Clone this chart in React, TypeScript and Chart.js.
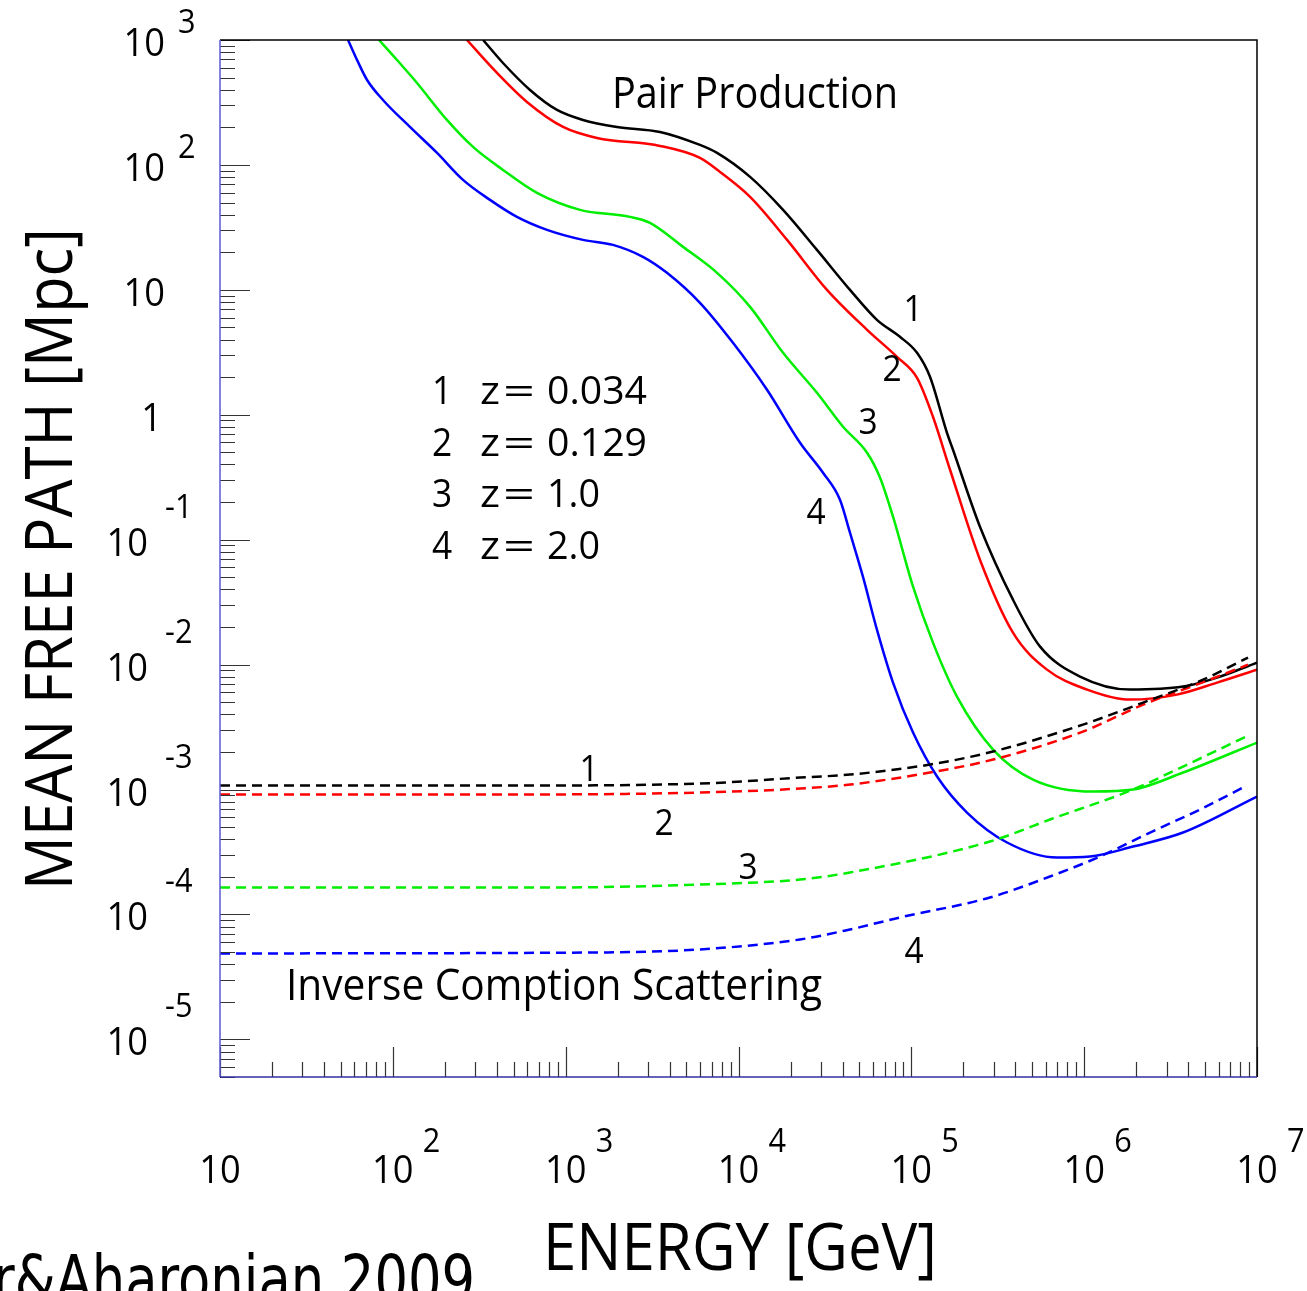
import React, { useEffect, useRef } from "react";
import { Chart, registerables } from "chart.js";

Chart.register(...registerables);

// ---------- axis ranges ----------
const X_MIN = 10;
const X_MAX = 1e7;
const Y_MIN = 5e-6;
const Y_MAX = 1000;

// ---------- Pair production (solid curves) ----------
const ppEnergy1 = [333, 434, 622, 891, 1259, 1982, 3516, 5984, 7516, 11670, 18110, 28440, 44160, 63240, 85900, 107900, 128200, 160700, 174200, 249500, 387300, 555900, 946200, 1841000, 3733000, 5875000, 1e7];
const ppMfp1 = [1000, 654.6, 398.1, 275.4, 229.1, 201.4, 183.7, 144.5, 124.7, 80.17, 43.65, 20.89, 10.0, 5.754, 4.207, 3.133, 2.014, 0.7178, 0.5248, 0.1271, 0.03311, 0.01393, 0.008017, 0.00631, 0.006668, 0.00787, 0.01038];

const ppEnergy2 = [268.5, 400.9, 597, 966.1, 1517, 3516, 5984, 7816, 11670, 19100, 32510, 55460, 82600, 107900, 133400, 167500, 249500, 387300, 609500, 1040000, 1841000, 3443000, 5875000, 1e7];
const ppMfp2 = [1000, 544.5, 319.2, 201.4, 164.4, 141.9, 113.8, 87.9, 55.46, 25.12, 10, 4.786, 2.911, 1.977, 0.9638, 0.3631, 0.06918, 0.01803, 0.00912, 0.00631, 0.005248, 0.005754, 0.007178, 0.00912];

const ppEnergy3 = [83.18, 105.7, 138, 205.6, 291.1, 434, 682.3, 1211, 2355, 3076, 4775, 7516, 11670, 18110, 28440, 40270, 55460, 65920, 78340, 102300, 133400, 183700, 297200, 505800, 1125000, 1919000, 3733000, 1e7];
const ppMfp3 = [1000, 691.8, 452.9, 229.1, 139.3, 91.2, 59.7, 43.65, 38.37, 34.36, 22.08, 13.68, 7.311, 3.133, 1.5, 0.8017, 0.4966, 0.3133, 0.1528, 0.04207, 0.015, 0.005546, 0.002089, 0.001202, 0.0009638, 0.001, 0.001368, 0.002377];

const ppEnergy4 = [55.08, 62.09, 70.96, 87.7, 125.6, 180.3, 254.7, 364.8, 522.4, 779.8, 1259, 1879, 2799, 3855, 5984, 9290, 14620, 22700, 30830, 38640, 44160, 52480, 63240, 78340, 102300, 140900, 209900, 358100, 696600, 1081000, 1919000, 3733000, 1e7];
const ppMfp4 = [1000, 691.8, 478.6, 331.1, 201.4, 124.7, 75.86, 52.48, 38.37, 30.2, 25.12, 22.91, 18.37, 13.68, 7.87, 3.767, 1.585, 0.597, 0.3436, 0.2089, 0.1138, 0.05058, 0.01905, 0.007178, 0.002858, 0.001271, 0.0006546, 0.0003767, 0.0002858, 0.0002911, 0.0003499, 0.0004529, 0.000879];

// ---------- Inverse Compton scattering (dashed curves) ----------
const icEnergy1 = [10, 416.9, 5984, 22700, 44160, 128200, 297200, 984000, 2193000, 4875000, 8872000];
const icMfp1 = [0.001076, 0.001076, 0.001117, 0.001247, 0.001318, 0.001585, 0.002014, 0.003311, 0.004966, 0.007586, 0.01138];

const icEnergy2 = [10, 416.9, 5984, 22700, 44160, 128200, 297200, 984000, 2193000, 5346000, 8872000];
const icMfp2 = [0.000912, 0.000912, 0.0009462, 0.001019, 0.001096, 0.001368, 0.001738, 0.002911, 0.004786, 0.007586, 0.01];

const icEnergy3 = [10, 811, 5984, 22700, 44160, 285100, 633900, 1919000, 3733000, 9120000];
const icMfp3 = [0.0001644, 0.0001644, 0.0001738, 0.0001905, 0.0002168, 0.0003837, 0.0005754, 0.001, 0.001528, 0.002754];

const icEnergy4 = [10, 1581, 5984, 22700, 44160, 85900, 285100, 633900, 1236000, 2404000, 4677000, 8531000];
const icMfp4 = [0.00004875, 0.00004966, 0.00005248, 0.0000631, 0.00007586, 0.00009462, 0.0001368, 0.0002014, 0.0002911, 0.0004529, 0.0006918, 0.001057];

// ---------- colours / legend ----------
const curveColors = ["#000000", "#ff0000", "#00ee00", "#0000ff"];
const curveIds = ["1", "2", "3", "4"];
const redshifts = ["0.034", "0.129", "1.0", "2.0"];

// ---------- tick labels ----------
const yMajorTicks = [1e3, 1e2, 10, 1, 0.1, 0.01, 1e-3, 1e-4, 1e-5];
const yTickBase = ["10", "10", "10", "1", "10", "10", "10", "10", "10"];
const yTickExp = ["3", "2", "", "", "-1", "-2", "-3", "-4", "-5"];
const xMajorTicks = [10, 1e2, 1e3, 1e4, 1e5, 1e6, 1e7];
const xTickExp = ["", "2", "3", "4", "5", "6", "7"];

const FONT = '"Open Sans", "Noto Sans", sans-serif';

function drawText(
  ctx: CanvasRenderingContext2D,
  s: string,
  x: number,
  y: number,
  size: number,
  opts: { align?: CanvasTextAlign; fit?: number; sx?: number; italic?: boolean; rotate?: number; family?: string } = {}
) {
  ctx.save();
  ctx.font = `${opts.italic ? "italic " : ""}${size}px ${opts.family || FONT}`;
  ctx.textBaseline = "alphabetic";
  ctx.fillStyle = "#000";
  let sx = opts.sx ?? 0.93;
  if (opts.fit) {
    const w = ctx.measureText(s).width;
    sx = opts.fit / w;
  }
  ctx.translate(x, y);
  if (opts.rotate) ctx.rotate(opts.rotate);
  ctx.scale(sx, 1);
  ctx.textAlign = opts.align || "left";
  ctx.fillText(s, 0, 0);
  ctx.restore();
}

const decorPlugin = {
  id: "decor",
  afterDatasetsDraw(chart: any) {
    const ctx: CanvasRenderingContext2D = chart.ctx;
    const xs = chart.scales.x;
    const ys = chart.scales.y;
    const { left, right, top, bottom } = chart.chartArea;
    ctx.save();

    // minor + major ticks (inward)
    ctx.strokeStyle = "#333";
    ctx.lineWidth = 1.2;
    ctx.beginPath();
    for (let d = -6; d <= 3; d++) {
      for (let m = 1; m <= 9; m++) {
        const v = m * Math.pow(10, d);
        if (v < Y_MIN * 0.999 || v > Y_MAX * 1.001) continue;
        const py = Math.round(ys.getPixelForValue(v)) + 0.5;
        const len = m === 1 ? 30 : 15;
        ctx.moveTo(left, py);
        ctx.lineTo(left + len, py);
      }
    }
    for (let d = 1; d <= 7; d++) {
      for (let m = 1; m <= 9; m++) {
        const v = m * Math.pow(10, d);
        if (v < X_MIN * 0.999 || v > X_MAX * 1.001) continue;
        const px = Math.round(xs.getPixelForValue(v)) + 0.5;
        const len = m === 1 ? 30 : 15;
        ctx.moveTo(px, bottom);
        ctx.lineTo(px, bottom - len);
      }
    }
    ctx.stroke();

    // frame
    ctx.lineWidth = 1.5;
    ctx.strokeStyle = "#000";
    ctx.beginPath();
    ctx.moveTo(left, top);
    ctx.lineTo(right, top);
    ctx.lineTo(right, bottom);
    ctx.stroke();
    ctx.strokeStyle = "#5b5bd6";
    ctx.beginPath();
    ctx.moveTo(left, top);
    ctx.lineTo(left, bottom);
    ctx.stroke();
    ctx.strokeStyle = "#2f2f9f";
    ctx.beginPath();
    ctx.moveTo(left, bottom);
    ctx.lineTo(right, bottom);
    ctx.stroke();

    // y tick labels
    yMajorTicks.forEach((v, i) => {
      const py = ys.getPixelForValue(v);
      const exp = yTickExp[i];
      if (!exp) {
        drawText(ctx, yTickBase[i], yTickBase[i] === "1" ? 162 : 165, py + 16, 39, { align: "right" });
      } else if (exp.startsWith("-")) {
        drawText(ctx, yTickBase[i], 148, py + 16, 39, { align: "right" });
        drawText(ctx, exp, 165, py - 22, 33, { align: "left" });
      } else {
        drawText(ctx, yTickBase[i], 165, py + 16, 39, { align: "right" });
        drawText(ctx, exp, 178, py - 7, 33, { align: "left" });
      }
    });

    // x tick labels
    xMajorTicks.forEach((v, i) => {
      const px = xs.getPixelForValue(v);
      drawText(ctx, "10", px, 1183, 39, { align: "center" });
      if (xTickExp[i]) drawText(ctx, xTickExp[i], px + 30, 1152, 33, { align: "left" });
    });

    // axis titles
    drawText(ctx, "ENERGY [GeV]", 543, 1270, 66, { align: "left", fit: 394 });
    drawText(ctx, "MEAN FREE PATH [Mpc]", 72, 559, 66, { align: "center", fit: 662, rotate: -Math.PI / 2 });

    // annotations
    drawText(ctx, "Pair Production", 612, 108, 43, { align: "left", fit: 286 });
    drawText(ctx, "Inverse Comption Scattering", 286, 1000, 43, { align: "left", fit: 536 });

    // legend
    const rowBase = [404, 456, 507, 559];
    const valueW = [100, 100, 53, 53];
    redshifts.forEach((z, i) => {
      drawText(ctx, curveIds[i], 432, rowBase[i], 38, { align: "left" });
      drawText(ctx, "z", 480, rowBase[i], 38, { align: "left", fit: 20 });
      drawText(ctx, "=", 519, rowBase[i], 38, { align: "center", fit: 32 });
      drawText(ctx, z, 547, rowBase[i], 38, { align: "left", fit: valueW[i] });
    });

    // curve labels (solid)
    const solidLbl = [
      [913, 321],
      [892, 381],
      [868, 434],
      [816, 524],
    ];
    solidLbl.forEach((p, i) => drawText(ctx, curveIds[i], p[0], p[1], 36, { align: "center" }));
    // curve labels (dashed)
    const dashLbl = [
      [589, 781],
      [664, 835],
      [748, 879],
      [914, 963],
    ];
    dashLbl.forEach((p, i) => drawText(ctx, curveIds[i], p[0], p[1], 36, { align: "center" }));

    // credit
    drawText(ctx, "r&Aharonian 2009", 475, 1302, 66, { align: "right", fit: 482, family: '"DejaVu Sans", sans-serif' });

    ctx.restore();
  },
};

function makeSet(xsArr: number[], ysArr: number[], color: string, dashed: boolean) {
  return {
    data: xsArr.map((x, i) => ({ x, y: ysArr[i] })),
    borderColor: color,
    backgroundColor: color,
    borderWidth: 2.5,
    borderDash: dashed ? [10, 6] : [],
    pointRadius: 0,
    fill: false,
    cubicInterpolationMode: "monotone" as const,
  };
}

export default function App() {
  const ref = useRef<HTMLCanvasElement | null>(null);
  useEffect(() => {
    if (!ref.current) return;
    const chart = new Chart(ref.current, {
      type: "line",
      data: {
        datasets: [
          makeSet(icEnergy1, icMfp1, curveColors[0], true),
          makeSet(icEnergy2, icMfp2, curveColors[1], true),
          makeSet(icEnergy3, icMfp3, curveColors[2], true),
          makeSet(icEnergy4, icMfp4, curveColors[3], true),
          makeSet(ppEnergy1, ppMfp1, curveColors[0], false),
          makeSet(ppEnergy2, ppMfp2, curveColors[1], false),
          makeSet(ppEnergy3, ppMfp3, curveColors[2], false),
          makeSet(ppEnergy4, ppMfp4, curveColors[3], false),
        ] as any,
      },
      options: {
        animation: false,
        responsive: false,
        devicePixelRatio: 1,
        events: [],
        layout: { padding: { left: 220, top: 40, right: 50, bottom: 214 } },
        plugins: {
          legend: { display: false },
          tooltip: { enabled: false },
          title: { display: false },
        },
        scales: {
          x: { type: "logarithmic", min: X_MIN, max: X_MAX, display: false },
          y: { type: "logarithmic", min: Y_MIN, max: Y_MAX, display: false },
        },
      } as any,
      plugins: [decorPlugin],
    });
    return () => chart.destroy();
  }, []);
  return (
    <div style={{ position: "fixed", left: 0, top: 0, width: 1307, height: 1291, background: "#fff", overflow: "hidden" }}>
      <canvas ref={ref} width={1307} height={1291} style={{ display: "block", width: 1307, height: 1291 }} />
    </div>
  );
}
